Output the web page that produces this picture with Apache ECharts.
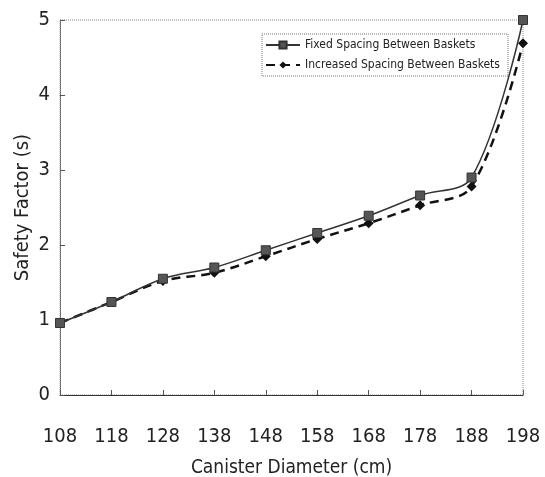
<!DOCTYPE html>
<html>
<head>
<meta charset="utf-8">
<script src="https://cdn.jsdelivr.net/npm/echarts@6/dist/echarts.min.js"></script>
<style>
  html, body { margin: 0; padding: 0; background: #fff; }
  #chart { width: 545px; height: 477px; }
</style>
</head>
<body>
<div id="chart"></div>
<script>
// canister diameters (cm)
const diameters = ['108', '118', '128', '138', '148', '158', '168', '178', '188', '198']
const fixedSpacing = [0.96, 1.24, 1.55, 1.70, 1.93, 2.16, 2.39, 2.66, 2.90, 5.0]
const increasedSpacing = [0.96, 1.24, 1.52, 1.63, 1.85, 2.08, 2.29, 2.53, 2.78, 4.69]
const yTicks = [0, 1, 2, 3, 4, 5]

const font = '"Liberation Sans Narrow", "DejaVu Sans Condensed", "Liberation Sans", sans-serif'

const chart = echarts.init(document.getElementById('chart'), null, { renderer: 'canvas' })

chart.setOption({
  animation: false,
  backgroundColor: '#fff',
  textStyle: { fontFamily: font },
  grid: {
    left: 60,
    right: 22,
    top: 20,
    bottom: 82,
    outerBoundsMode: 'none',
    containLabel: false,
    show: true,
    borderColor: '#888',
    borderWidth: 1,
    borderType: 'dotted'
  },
  legend: {
    show: true,
    top: 34,
    left: 262,
    orient: 'vertical',
    itemGap: 8,
    itemWidth: 34,
    itemHeight: 9,
    padding: [5, 8, 5, 3],
    borderColor: '#777',
    borderWidth: 1,
    borderType: 'dotted',
    textStyle: { fontSize: 12, color: '#222', fontFamily: font },
    data: ['Fixed Spacing Between Baskets', 'Increased Spacing Between Baskets']
  },
  xAxis: {
    type: 'category',
    boundaryGap: false,
    data: diameters,
    name: 'Canister Diameter (cm)',
    nameLocation: 'middle',
    nameGap: 64,
    nameMoveOverlap: false,
    nameTextStyle: { fontSize: 19, color: '#222', fontFamily: font },
    axisLine: { lineStyle: { color: '#333', width: 1 } },
    axisTick: { inside: true, length: 5, lineStyle: { color: '#555' } },
    axisLabel: { fontSize: 20, color: '#222', margin: 32, fontFamily: font },
    splitLine: { show: false }
  },
  yAxis: {
    type: 'value',
    min: yTicks[0],
    max: yTicks[yTicks.length - 1],
    interval: 1,
    name: 'Safety Factor (s)',
    nameLocation: 'middle',
    nameGap: 27,
    nameMoveOverlap: false,
    nameTextStyle: { fontSize: 20, color: '#222', fontFamily: font },
    axisLine: { show: true, lineStyle: { color: '#666', width: 1, type: 'dotted' } },
    axisTick: { show: true, inside: true, length: 5, lineStyle: { color: '#555' } },
    axisLabel: { fontSize: 20, color: '#222', margin: 10, fontFamily: font },
    splitLine: { show: false }
  },
  series: [
    {
      name: 'Fixed Spacing Between Baskets',
      type: 'line',
      data: fixedSpacing,
      smooth: 0.35,
      symbol: 'rect',
      symbolSize: 9,
      itemStyle: { color: '#555', borderColor: '#333', borderWidth: 1 },
      lineStyle: { color: '#333', width: 1.5 },
      z: 3
    },
    {
      name: 'Increased Spacing Between Baskets',
      type: 'line',
      data: increasedSpacing,
      smooth: 0.35,
      symbol: 'diamond',
      symbolSize: 10,
      itemStyle: { color: '#111' },
      lineStyle: { color: '#111', width: 2.5, type: [9, 6] },
      z: 2
    }
  ]
})
</script>
</body>
</html>
